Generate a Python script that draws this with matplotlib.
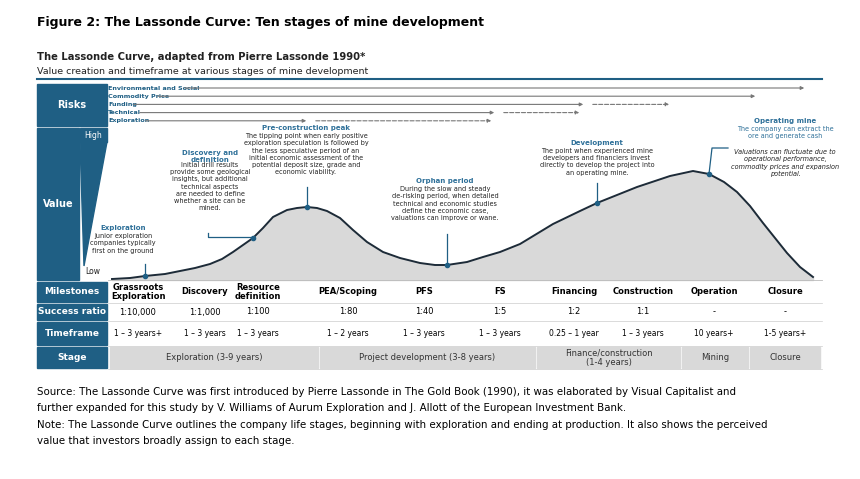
import matplotlib.pyplot as plt
from matplotlib.patches import Rectangle, Polygon

blue = "#1f5f84"
tblue = "#2e7099"
grey = "#d9d9d9"

# curve of value (read in picture pixel coordinates)
curve_x = [112, 130, 145, 165, 180, 195, 210, 222, 233, 243, 253, 263, 273, 287, 297, 307,
           317, 327, 340, 353, 367, 383, 400, 420, 435, 447, 467, 483, 500, 520, 553,
           580, 597, 617, 637, 670, 693, 709, 724, 737, 750, 763, 787, 800, 813]
curve_y = [279, 278, 276, 274, 271, 268, 264, 259, 252, 245, 238, 228, 217, 210, 208, 207,
           208, 211, 218, 230, 242, 252, 258, 263, 265, 265, 262, 257, 252, 244, 224,
           211, 203, 195, 187, 176, 171, 174, 182, 192, 206, 223, 253, 267, 277]

risk_names = ["Environmental and Social", "Commodity Price", "Funding", "Technical", "Exploration"]
risk_solid_end = [807, 758, 586, 497, 309]
risk_dash_end = [None, None, 672, 582, 494]

col_x = [138, 205, 258, 348, 424, 500, 574, 643, 714, 785]
milestones = ["Grassroots\nExploration", "Discovery", "Resource\ndefinition", "PEA/Scoping",
              "PFS", "FS", "Financing", "Construction", "Operation", "Closure"]
success = ["1:10,000", "1:1,000", "1:100", "1:80", "1:40", "1:5", "1:2", "1:1", "-", "-"]
timeframe = ["1 – 3 years+", "1 – 3 years", "1 – 3 years", "1 – 2 years", "1 – 3 years",
             "1 – 3 years", "0.25 – 1 year", "1 – 3 years", "10 years+", "1-5 years+"]
stages = ["Exploration (3-9 years)", "Project development (3-8 years)",
          "Finance/construction\n(1-4 years)", "Mining", "Closure"]
stage_span = [(110, 318), (320, 535), (537, 680), (682, 748), (750, 820)]

fig = plt.figure(figsize=(8.6, 4.79), dpi=100)
ax = fig.add_axes([0, 0, 1, 1])
ax.set_xlim(0, 860)
ax.set_ylim(479, 0)
ax.axis('off')

ax.text(37, 22, "Figure 2: The Lassonde Curve: Ten stages of mine development",
        fontsize=9, fontweight='bold', va='center')
ax.text(37, 57, "The Lassonde Curve, adapted from Pierre Lassonde 1990*",
        fontsize=7.2, fontweight='bold', va='center', color='#222222')
ax.text(37, 71, "Value creation and timeframe at various stages of mine development",
        fontsize=6.8, va='center', color='#222222')
ax.plot([37, 822], [79, 79], color=blue, lw=1.5)

# left label boxes
ax.add_patch(Rectangle((37, 84), 70, 42, color=blue))
ax.text(72, 105, "Risks", color='white', fontsize=7, fontweight='bold', ha='center', va='center')
ax.add_patch(Rectangle((37, 128), 42, 152, color=blue))
ax.text(58, 204, "Value", color='white', fontsize=7, fontweight='bold', ha='center', va='center')
ax.add_patch(Rectangle((80, 128), 27, 14, color=blue))
ax.text(93, 135, "High", color='white', fontsize=5.5, ha='center', va='center')
ax.add_patch(Polygon([(80, 142), (107, 142), (84, 266)], color=blue))
ax.text(93, 271, "Low", color='#222222', fontsize=5.5, ha='center', va='center')

# risk arrows
for i, name in enumerate(risk_names):
    y = 88 + i * 8.2
    ax.text(108, y, name, fontsize=4.6, color=blue, fontweight='bold', va='center')
    x0 = 110 + len(name) * 3.0
    ax.annotate("", xy=(risk_solid_end[i], y), xytext=(x0, y),
                arrowprops=dict(arrowstyle='-|>', color='#777777', lw=0.8, mutation_scale=5))
    if risk_dash_end[i]:
        ax.annotate("", xy=(risk_dash_end[i], y), xytext=(risk_solid_end[i] + 4, y),
                    arrowprops=dict(arrowstyle='-|>', color='#777777', lw=0.8, ls='--', mutation_scale=5))

# curve
ax.fill_between(curve_x, curve_y, 280, color=grey)
ax.plot(curve_x, curve_y, color='#1d2b38', lw=1.4)
ax.plot([108, 822], [280, 280], color='#bbbbbb', lw=0.6)

notes = [
    (145, 276, 123, 228, "Exploration", "Junior exploration\ncompanies typically\nfirst on the ground", False),
    (253, 238, 210, 157, "Discovery and\ndefinition",
     "Initial drill results\nprovide some geological\ninsights, but additional\ntechnical aspects\nare needed to define\nwhether a site can be\nmined.", False),
    (307, 207, 306, 128, "Pre-construction peak",
     "The tipping point when early positive\nexploration speculation is followed by\nthe less speculative period of an\ninitial economic assessment of the\npotential deposit size, grade and\neconomic viability.", False),
    (447, 265, 445, 181, "Orphan period",
     "During the slow and steady\nde-risking period, when detailed\ntechnical and economic studies\ndefine the economic case,\nvaluations can improve or wane.", False),
    (597, 203, 597, 143, "Development",
     "The point when experienced mine\ndevelopers and financiers invest\ndirectly to develop the project into\nan operating mine.", False),
    (709, 174, 785, 121, "Operating mine", "The company can extract the\nore and generate cash", True),
]
for px, py, tx, ty, title, body, op in notes:
    ax.text(tx, ty, title, fontsize=5, color=tblue, fontweight='bold', ha='center', va='center')
    ax.text(tx, ty + 5, body, fontsize=4.7, color='#222222' if not op else tblue,
            ha='center', va='top', linespacing=1.25)
    ax.plot(px, py, 'o', color=blue, ms=3)
ax.plot([145, 145], [276, 264], color=blue, lw=0.9)
ax.plot([208, 208, 253], [233, 237, 237], color=blue, lw=0.9)
ax.plot([307, 307], [207, 187], color=blue, lw=0.9)
ax.plot([447, 447], [265, 234], color=blue, lw=0.9)
ax.plot([597, 597], [203, 183], color=blue, lw=0.9)
ax.plot([709, 712, 728], [174, 148, 148], color=blue, lw=0.9)
ax.text(785, 149, "Valuations can fluctuate due to\noperational performance,\ncommodity prices and expansion\npotential.",
        fontsize=4.7, style='italic', color='#222222', ha='center', va='top', linespacing=1.25)

# table rows
rows = [("Milestones", 282, 302), ("Success ratio", 304, 320), ("Timeframe", 322, 345), ("Stage", 347, 368)]
for name, y0, y1 in rows:
    ax.add_patch(Rectangle((37, y0), 70, y1 - y0, color=blue))
    ax.text(72, (y0 + y1) / 2, name, color='white', fontsize=6.5, fontweight='bold', ha='center', va='center')
    ax.plot([108, 822], [y1 + 1, y1 + 1], color='#cccccc', lw=0.5)
for x, m, s, t in zip(col_x, milestones, success, timeframe):
    ax.text(x, 292, m, fontsize=6, fontweight='bold', ha='center', va='center', linespacing=1.1)
    ax.text(x, 312, s, fontsize=6, ha='center', va='center')
    ax.text(x, 334, t, fontsize=5.5, ha='center', va='center')
for (x0, x1), s in zip(stage_span, stages):
    ax.add_patch(Rectangle((x0, 347), x1 - x0, 21, color=grey))
    ax.text((x0 + x1) / 2, 357.5, s, fontsize=6, ha='center', va='center', color='#333333', linespacing=1.1)

src = ("Source: The Lassonde Curve was first introduced by Pierre Lassonde in The Gold Book (1990), it was elaborated by Visual Capitalist and\n"
       "further expanded for this study by V. Williams of Aurum Exploration and J. Allott of the European Investment Bank.\n"
       "Note: The Lassonde Curve outlines the company life stages, beginning with exploration and ending at production. It also shows the perceived\n"
       "value that investors broadly assign to each stage.")
ax.text(37, 387, src, fontsize=7.4, va='top', linespacing=1.8)

fig.savefig("out.png", dpi=100)
